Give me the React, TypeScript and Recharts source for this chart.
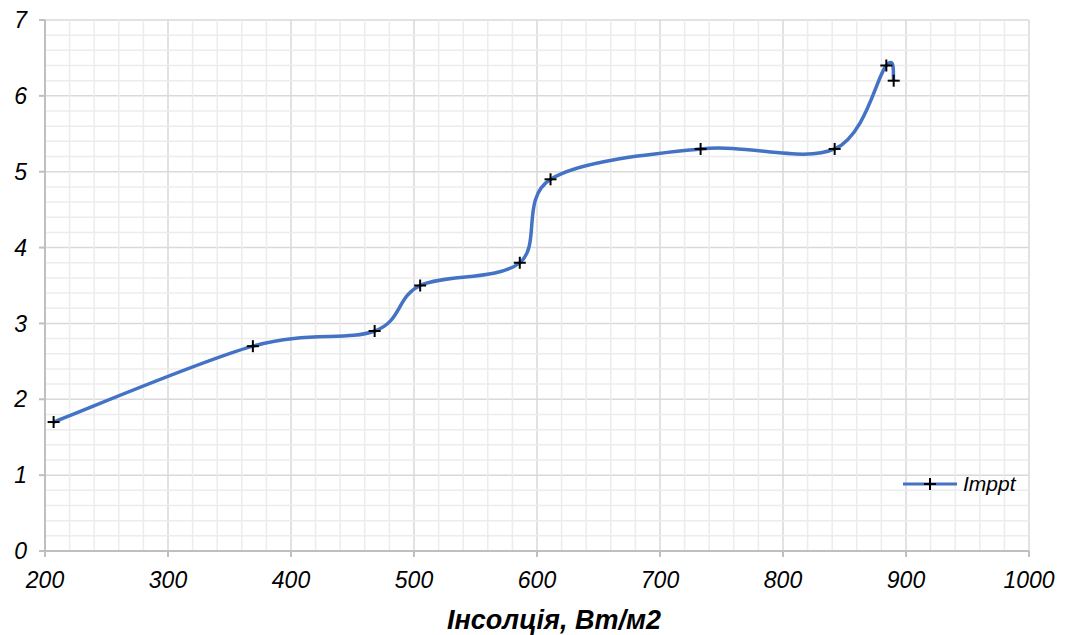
import React from "react";
import {
  CartesianGrid,
  Line,
  LineChart,
  ReferenceLine,
  XAxis,
  YAxis,
} from "recharts";

const insolation = [207, 369, 468, 505, 586, 611, 733, 842, 884, 890];
const imppt = [1.7, 2.7, 2.9, 3.5, 3.8, 4.9, 5.3, 5.3, 6.4, 6.2];

const xTicks = [200, 300, 400, 500, 600, 700, 800, 900, 1000];
const yTicks = [0, 1, 2, 3, 4, 5, 6, 7];

// minor grid every 20 on x and 0.2 on y (between the major lines)
const xMinor = Array.from({ length: 41 }, (_, i) => 200 + i * 20).filter((v) => v % 100 !== 0);
const yMinor = Array.from({ length: 36 }, (_, i) => Math.round(i * 2) / 10).filter(
  (v) => Math.abs(v - Math.round(v)) > 0.01
);

const data = insolation.map((x, i) => ({ x, y: imppt[i] }));

const FONT = '"Liberation Sans", Arial, sans-serif';
const BLUE = "#4472C4";

// Excel-style smoothed line (uniform Catmull-Rom as cubic Bezier)
function excelSmooth(context: any) {
  let pts: [number, number][] = [];
  return {
    areaStart() {},
    areaEnd() {},
    lineStart() {
      pts = [];
    },
    lineEnd() {
      const n = pts.length;
      if (!n) return;
      context.moveTo(pts[0][0], pts[0][1]);
      for (let i = 0; i < n - 1; i++) {
        const p0 = pts[i - 1] ?? pts[i];
        const p1 = pts[i];
        const p2 = pts[i + 1];
        const p3 = pts[i + 2] ?? p2;
        context.bezierCurveTo(
          p1[0] + (p2[0] - p0[0]) / 6,
          p1[1] + (p2[1] - p0[1]) / 6,
          p2[0] - (p3[0] - p1[0]) / 6,
          p2[1] - (p3[1] - p1[1]) / 6,
          p2[0],
          p2[1]
        );
      }
    },
    point(x: number, y: number) {
      pts.push([+x, +y]);
    },
  };
}

function PlusDot(props: any) {
  const { cx, cy } = props;
  if (cx == null || cy == null) return null;
  return (
    <g>
      <line x1={cx - 6} x2={cx + 6} y1={cy} y2={cy} stroke="#000" strokeWidth={2} />
      <line x1={cx} x2={cx} y1={cy - 6} y2={cy + 6} stroke="#000" strokeWidth={2} />
    </g>
  );
}

function LegendBox() {
  return (
    <div
      style={{
        position: "absolute",
        left: 903,
        top: 472,
        height: 24,
        display: "flex",
        alignItems: "center",
        fontFamily: FONT,
      }}
    >
      <svg width={54} height={14}>
        <line x1={0} x2={54} y1={7} y2={7} stroke={BLUE} strokeWidth={3} />
        <line x1={21} x2={33} y1={7} y2={7} stroke="#000" strokeWidth={2} />
        <line x1={27} x2={27} y1={1} y2={13} stroke="#000" strokeWidth={2} />
      </svg>
      <span style={{ fontStyle: "italic", fontSize: 21, marginLeft: 6, color: "#000" }}>Imppt</span>
    </div>
  );
}

export default function App() {
  return (
    <div style={{ position: "absolute", left: 0, top: 0, width: 1065, height: 635, background: "#fff" }}>
      <LineChart
        width={1065}
        height={635}
        data={data}
        margin={{ top: 20, right: 36, left: 0, bottom: 0 }}
      >
        {xMinor.map((v) => (
          <ReferenceLine key={"xm" + v} x={v} stroke="#ececec" strokeWidth={1.5} />
        ))}
        {yMinor.map((v) => (
          <ReferenceLine key={"ym" + v} y={v} stroke="#ececec" strokeWidth={1.5} />
        ))}
        <CartesianGrid stroke="#d9d9d9" strokeWidth={1.5} />
        <XAxis
          type="number"
          dataKey="x"
          domain={[200, 1000]}
          ticks={xTicks}
          height={84}
          interval={0}
          stroke="#bfbfbf"
          strokeWidth={2}
          tickSize={6}
          tickMargin={15}
          tick={{ fill: "#000", fontSize: 23, fontStyle: "italic", fontFamily: FONT }}
          label={{
            value: "Інсолція, Вт/м2",
            position: "insideBottom",
            offset: 6,
            dx: 17,
            fill: "#000",
            fontSize: 27,
            fontWeight: "bold",
            fontStyle: "italic",
            fontFamily: FONT,
          }}
        />
        <YAxis
          type="number"
          domain={[0, 7]}
          ticks={yTicks}
          width={45}
          interval={0}
          stroke="#bfbfbf"
          strokeWidth={2}
          tickSize={6}
          tickMargin={12}
          tick={{ fill: "#000", fontSize: 23, fontStyle: "italic", fontFamily: FONT }}
        />
        <Line
          type={excelSmooth as any}
          dataKey="y"
          name="Imppt"
          stroke={BLUE}
          strokeWidth={3.5}
          dot={<PlusDot />}
          activeDot={false}
          isAnimationActive={false}
        />
      </LineChart>
      <LegendBox />
    </div>
  );
}
